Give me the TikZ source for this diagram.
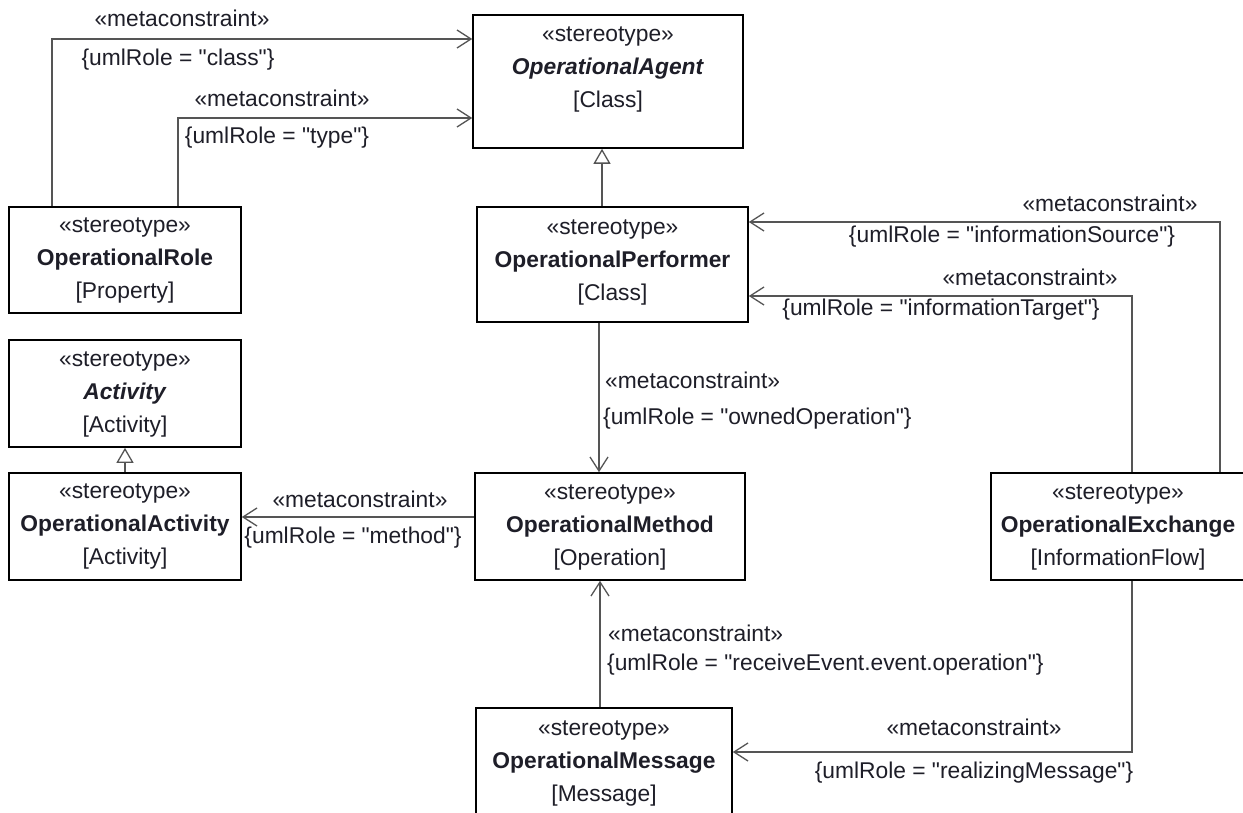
\documentclass[tikz,border=0pt]{standalone}
\usepackage{fontspec}
\setmainfont{Liberation Sans}[Ligatures=TeXOff]
\usetikzlibrary{arrows.meta}
\definecolor{txtc}{HTML}{1E1E28}
\definecolor{linec}{HTML}{555555}
\begin{document}
\begin{tikzpicture}[x=1pt,y=-1pt,
  box/.style={draw=black, line width=1.6pt, inner sep=0pt},
  txt/.style={text=txtc, align=center, font=\fontsize{22.8}{33}\selectfont, inner sep=0pt},
  lbl/.style={text=txtc, font=\fontsize{22.8}{27}\selectfont, inner sep=0pt},
  conn/.style={draw=linec, line width=1.3pt},
  assoc/.style={conn, -{Straight Barb[length=14pt,width=18pt]}},
  gen/.style={conn, -{Triangle[open,length=15pt,width=17pt,fill=white]}}
]
\useasboundingbox (0,0) rectangle (1243,813);
\fill[white] (0,0) rectangle (1243,813);

% boxes
\node[box, minimum width=270pt, minimum height=133pt] (agent) at (608,81.5) {};
\node[box, minimum width=232pt, minimum height=106pt] (role) at (125,260) {};
\node[box, minimum width=271pt, minimum height=115pt] (perf) at (612.5,264.5) {};
\node[box, minimum width=232pt, minimum height=107pt] (act) at (125,393.5) {};
\node[box, minimum width=232pt, minimum height=107pt] (opact) at (125,526.5) {};
\node[box, minimum width=270pt, minimum height=107pt] (meth) at (610,526.5) {};
\node[box, minimum width=255pt, minimum height=107pt] (exch) at (1118.5,526.5) {};
\node[box, minimum width=256pt, minimum height=112pt] (msg) at (604,764) {};

% box texts
\node[txt] (agentT) at (608,69) {«stereotype»\\\textbf{\textit{OperationalAgent}}\\{[Class]}};
\node[txt] (roleT) at (125,260) {«stereotype»\\\textbf{OperationalRole}\\{[Property]}};
\node[txt] (perfT) at (612.5,262) {«stereotype»\\\textbf{OperationalPerformer}\\{[Class]}};
\node[txt] (actT) at (125,394) {«stereotype»\\\textbf{\textit{Activity}}\\{[Activity]}};
\node[txt] (opactT) at (125,526) {«stereotype»\\\textbf{OperationalActivity}\\{[Activity]}};
\node[txt] (methT) at (610,527) {«stereotype»\\\textbf{OperationalMethod}\\{[Operation]}};
\node[txt] (exchT) at (1118,527) {«stereotype»\\\textbf{OperationalExchange}\\{[InformationFlow]}};
\node[txt] (msgT) at (604,763) {«stereotype»\\\textbf{OperationalMessage}\\{[Message]}};

% connectors
\draw[assoc] (role.north -| 52,0) |- (agent.west |- 0,39);
\draw[assoc] (role.north -| 178,0) |- (agent.west |- 0,118);
\draw[gen] (perf.north -| 602,0) -- (agent.south -| 602,0);
\draw[gen] (opact.north -| 125,0) -- (act.south -| 125,0);
\draw[assoc] (exch.north -| 1220,0) |- (perf.east |- 0,222);
\draw[assoc] (exch.north -| 1132,0) |- (perf.east |- 0,296);
\draw[assoc] (perf.south -| 599,0) -- (meth.north -| 599,0);
\draw[assoc] (meth.west |- 0,517) -- (opact.east |- 0,517);
\draw[assoc] (msg.north -| 600,0) -- (meth.south -| 600,0);
\draw[assoc] (exch.south -| 1132,0) |- (msg.east |- 0,752);

% labels
\node[lbl] (l1a) at (182,18) {«metaconstraint»};
\node[lbl] (l1b) at (178,60) {\{umlRole = "class"\}};
\node[lbl] (l2a) at (282,98) {«metaconstraint»};
\node[lbl] (l2b) at (277,138) {\{umlRole = "type"\}};
\node[lbl] (l4a) at (1110,203) {«metaconstraint»};
\node[lbl] (l4b) at (1012,237) {\{umlRole = "informationSource"\}};
\node[lbl] (l5a) at (1030,277) {«metaconstraint»};
\node[lbl] (l5b) at (941,310) {\{umlRole = "informationTarget"\}};
\node[lbl, anchor=west] (l6a) at (605,380) {«metaconstraint»};
\node[lbl, anchor=west] (l6b) at (603,419) {\{umlRole = "ownedOperation"\}};
\node[lbl] (l7a) at (360,499) {«metaconstraint»};
\node[lbl] (l7b) at (353,538) {\{umlRole = "method"\}};
\node[lbl, anchor=west] (l8a) at (608,633) {«metaconstraint»};
\node[lbl, anchor=west] (l8b) at (607,665) {\{umlRole = "receiveEvent.event.operation"\}};
\node[lbl] (l9a) at (974,727) {«metaconstraint»};
\node[lbl] (l9b) at (974,773) {\{umlRole = "realizingMessage"\}};
\end{tikzpicture}
\end{document}
